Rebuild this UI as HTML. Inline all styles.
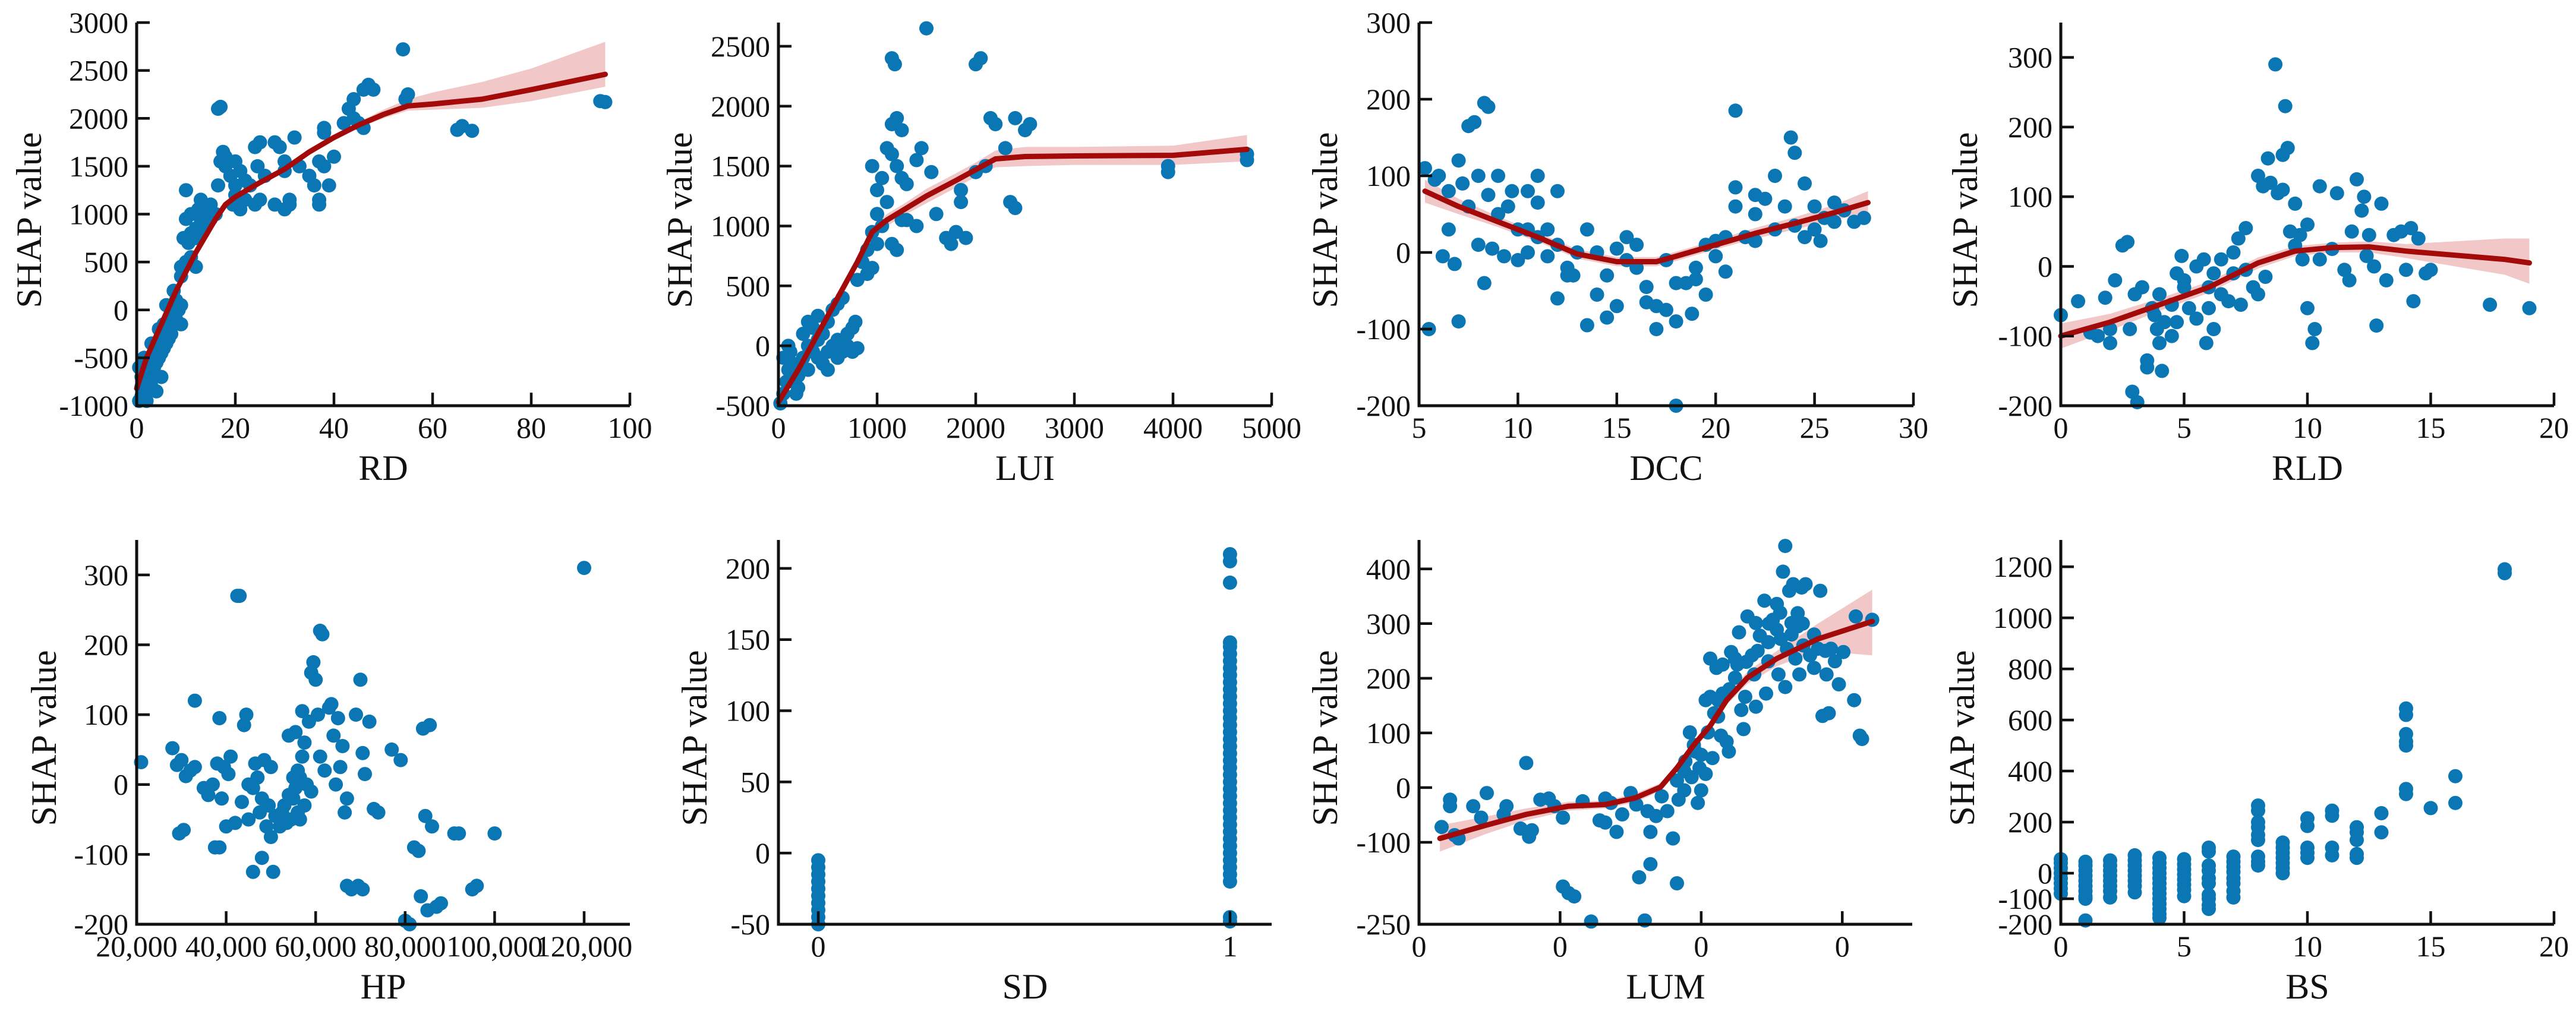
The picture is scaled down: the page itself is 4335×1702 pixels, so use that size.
<!DOCTYPE html>
<html><head><meta charset="utf-8"><style>
html,body{margin:0;padding:0;background:#fff}
svg{display:block}
svg text{font-family:"Liberation Serif","Times New Roman","DejaVu Serif",serif;fill:#111}
</style></head><body>
<svg id="chart" width="4335" height="1702" viewBox="0 0 4335 1702" xmlns="http://www.w3.org/2000/svg" font-family="Liberation Serif, Times New Roman, serif"></svg>
<script>
// ---------- DATA ----------
const rdPoints=[[0.5,-950],[1,-900],[1.5,-850],[1,-800],[2,-750],[2.5,-700],[3,-650],[2,-600],[3.5,-600],[4,-550],[3,-500],[4.5,-500],[5,-450],[4,-400],[5.5,-400],[6,-350],[5,-300],[6.5,-300],[7,-250],[6,-200],[7.5,-150],[8,-100],[7,-50],[8.5,0],[6,50],[9,50],[8,100],[9,-150],[7.5,200],[3,-800],[5,-700],[2,-950],[4,-850],[1,-700],[0.5,-600],[1.5,-500],[3,-350],[4.5,-200],[5.5,-150],[9,350],[9,450],[10,500],[11,550],[10.5,700],[9.5,750],[11,800],[12,850],[10,950],[11,1000],[12.5,1050],[13,950],[14,900],[13,800],[12,750],[14,1000],[15,950],[16,1000],[15,1100],[13,1150],[10,1250],[12,450],[16.5,1300],[17,1550],[17.5,1650],[18,1600],[18,1500],[16.5,2100],[17,2120],[19,1400],[20,1300],[20,1200],[19.5,1100],[21,1050],[22,1150],[22,1350],[21,1450],[23,1300],[20,1550],[24,1100],[25,1150],[24,1700],[25,1750],[24.5,1500],[26,1400],[28,1750],[29,1700],[28,1100],[30,1050],[31,1100],[31,1150],[32,1800],[30,1550],[30,1450],[33,1500],[35,1400],[36,1300],[37,1550],[37,1100],[37,1150],[38,1900],[38,1850],[39,1300],[40,1600],[38,1500],[42,1950],[43,2100],[44,2200],[44,2000],[45,1950],[46,1900],[46,2300],[47,2350],[48,2300],[54,2720],[54.5,2200],[55,2250],[65,1880],[66,1920],[68,1870],[94,2180],[95,2170]];
const rdFitX=[0,2,5,8,12,16,18,20,25,30,35,40,45,50,55,60,70,80,95];
const rdFitY=[-820,-500,-150,200,600,950,1100,1180,1330,1470,1650,1800,1930,2040,2130,2150,2200,2300,2460];
const rdFitLo=[-840,-520,-170,180,580,930,1080,1160,1310,1450,1630,1780,1900,2000,2080,2090,2110,2180,2330];
const rdFitHi=[-800,-480,-130,220,620,970,1120,1200,1350,1490,1670,1820,1960,2090,2200,2270,2380,2520,2800];

const luiPoints=[[20,-480],[50,-400],[80,-300],[100,-200],[50,-100],[120,-50],[150,-150],[200,-250],[180,-400],[250,-100],[300,0],[250,100],[350,150],[300,200],[400,250],[350,-50],[400,-100],[450,-150],[500,-50],[450,100],[500,200],[550,300],[600,350],[650,400],[550,0],[600,50],[650,-50],[700,100],[750,150],[780,200],[700,0],[100,0],[150,-300],[200,-350],[300,-200],[400,50],[500,-200],[600,-100],[750,-50],[800,-20],[800,550],[850,700],[900,600],[950,650],[900,800],[1000,850],[950,950],[1050,1000],[1000,1100],[1100,1200],[1000,1300],[1050,1400],[950,1500],[1100,1650],[1150,1600],[1200,1500],[1150,1850],[1200,1900],[1250,1800],[1150,2400],[1180,2350],[1250,1400],[1300,1350],[1200,800],[1150,850],[1400,1550],[1450,1650],[1500,2650],[1550,1450],[1600,1100],[1700,900],[1750,850],[1800,950],[1850,1200],[1900,900],[1850,1300],[2000,2350],[2050,2400],[2100,1500],[2150,1900],[2200,1850],[2300,1650],[2350,1200],[2400,1150],[2400,1900],[2500,1800],[2550,1850],[2000,1450],[1300,1050],[1400,1000],[1250,1050],[3950,1450],[3950,1500],[4750,1550],[4750,1600]];
const luiFitX=[0,200,400,600,800,950,1100,1300,1500,1800,2000,2200,2500,3000,4000,4750];
const luiFitY=[-470,-200,100,400,700,950,1050,1150,1250,1380,1470,1560,1580,1585,1590,1640];
const luiFitLo=[-490,-220,80,380,680,920,1000,1100,1190,1320,1410,1490,1500,1510,1510,1540];
const luiFitHi=[-450,-180,120,420,720,980,1100,1200,1310,1440,1530,1630,1660,1660,1670,1760];

const dccPoints=[[5.3,110],[5.5,-100],[5.8,95],[6,100],[6.2,-5],[6.5,80],[6.5,30],[6.8,-15],[7,120],[7,-90],[7.2,90],[7.5,165],[7.8,170],[7.5,60],[8,10],[8,100],[8.3,195],[8.5,190],[8.5,75],[8.3,-40],[8.7,5],[9,100],[9,50],[9.3,-5],[9.5,60],[9.7,80],[10,30],[10,-10],[10.5,0],[10.5,30],[11,100],[11,20],[11,65],[11.5,30],[11.5,-5],[12,80],[12,10],[12,-60],[12.5,-20],[12.5,-30],[13,0],[13.5,-95],[13.5,30],[14,-55],[14,0],[14.5,-30],[15,5],[15,-70],[15.5,20],[15.5,-10],[16,-20],[16,10],[16.5,-45],[16.5,-65],[17,-100],[17,-70],[17.5,-10],[17.5,-75],[18,-200],[18,-40],[18,-90],[18.5,-40],[19,-20],[19,-35],[19.5,-55],[19.5,10],[20,15],[20,-5],[20.5,20],[21,85],[21,60],[21,185],[21.5,20],[22,75],[22,50],[22.5,70],[23,30],[23,100],[23.5,60],[24,35],[24,130],[24.5,90],[24.5,20],[25,60],[25,30],[25.5,45],[26,40],[26.5,55],[27,40],[27.5,45],[23.8,150],[25.3,15],[26,65],[22,15],[20.5,-25],[18.8,-80],[14.5,-85],[12.8,-30],[10.5,80]];
const dccFitX=[5.3,7,9,11,13,15,17,18,20,22,24,26,27.7];
const dccFitY=[80,60,40,20,-2,-12,-12,-5,10,25,38,52,65];
const dccFitLo=[65,50,33,14,-8,-18,-18,-11,4,18,30,42,52];
const dccFitHi=[95,70,47,26,4,-6,-6,1,16,32,46,62,80];

const rldPoints=[[0,-70],[0.7,-50],[1.5,-100],[1.8,-45],[2,-110],[2,-90],[2.2,-20],[2.5,30],[2.7,35],[2.9,-180],[3.1,-195],[2.8,-90],[3,-40],[3.3,-30],[3.5,-135],[3.5,-145],[3.7,-60],[3.9,-90],[4,-40],[4.1,-150],[4,-110],[4.2,-80],[4.5,-100],[4.5,-55],[4.7,-10],[4.9,15],[5,-30],[5.2,-60],[5.5,-75],[5.5,0],[5.8,10],[5.9,-110],[6,-60],[6,-30],[6.2,-10],[6.5,10],[6.5,-40],[6.8,-50],[7,20],[7,-10],[7.2,40],[7.5,55],[7.5,-5],[7.8,-30],[8,-40],[8,130],[8.2,115],[8.4,155],[8.5,120],[8.7,290],[8.8,105],[9,160],[9,110],[9.1,230],[9.2,170],[9.3,50],[9.5,90],[9.5,30],[9.8,10],[10,60],[10,-60],[10.2,-110],[10.3,-90],[10.5,10],[10.5,115],[11,25],[11.2,105],[11.5,-5],[11.7,-20],[11.8,50],[12,125],[12.2,80],[12.3,100],[12.4,15],[12.5,45],[12.7,0],[12.8,-85],[13,90],[13.2,-20],[13.5,45],[13.8,50],[14,-5],[14.2,55],[14.3,-50],[14.5,40],[14.8,-10],[15,-5],[17.4,-55],[19,-60],[5,-20],[6.2,-90],[7.3,-55],[8.3,-15],[9.7,45],[3.8,-70],[4.7,-80],[1.2,-95]];
const rldFitX=[0,2,4,6,8,9.5,11,12.5,14,16,18,19];
const rldFitY=[-100,-80,-55,-30,5,22,27,28,22,16,10,5];
const rldFitLo=[-118,-92,-64,-38,-3,15,20,20,12,0,-12,-25];
const rldFitHi=[-82,-68,-46,-22,13,29,34,36,32,36,40,40];

const hpPoints=[[21000,32],[28000,52],[29000,28],[30000,35],[31000,12],[29500,-70],[30500,-65],[32000,20],[33000,25],[33000,120],[35000,-5],[36000,-15],[37000,0],[37500,-90],[38000,30],[38500,95],[39000,-20],[38500,-90],[39500,25],[40000,-60],[40500,15],[41000,40],[42000,-55],[42500,270],[43000,270],[43500,-25],[44000,85],[44500,100],[45000,0],[45000,-50],[46000,-125],[46500,30],[47000,10],[47500,-40],[48000,-105],[48500,35],[49000,-60],[49500,-30],[50000,-75],[50000,25],[50500,-125],[51000,-45],[52000,-60],[53000,-30],[54000,70],[54500,-50],[55000,-20],[55500,75],[56000,-40],[56500,10],[57000,105],[57000,40],[57500,-30],[58000,0],[58500,90],[59000,160],[59500,175],[60000,150],[60500,100],[61000,220],[61500,215],[61000,40],[62000,20],[63000,110],[63500,115],[64000,70],[64500,0],[65000,95],[65500,25],[66000,55],[66500,-40],[67000,-20],[67000,-145],[68000,-150],[69000,100],[69500,-145],[70000,150],[70500,-150],[70500,45],[71000,15],[72000,90],[73000,-35],[74000,-40],[77000,50],[79000,35],[80000,-195],[81000,-200],[82000,-90],[83000,-95],[83500,-160],[84000,80],[84500,-45],[85000,-180],[85500,85],[86000,-60],[87000,-175],[88000,-170],[91000,-70],[92000,-70],[95000,-150],[96000,-145],[100000,-70],[120000,310],[57500,60],[56000,20],[55000,10],[59000,-10],[52500,-40],[54000,-15],[56500,-50],[55500,-5],[53500,-55],[48000,-20],[46000,-5]];

const sdPoints=[[0,-5],[0,-10],[0,-15],[0,-20],[0,-25],[0,-30],[0,-35],[0,-40],[0,-45],[0,-50],[1,210],[1,205],[1,190],[1,148],[1,145],[1,140],[1,135],[1,130],[1,125],[1,120],[1,115],[1,110],[1,105],[1,100],[1,95],[1,90],[1,85],[1,80],[1,75],[1,70],[1,65],[1,60],[1,55],[1,50],[1,45],[1,40],[1,35],[1,30],[1,25],[1,20],[1,15],[1,10],[1,5],[1,0],[1,-5],[1,-10],[1,-15],[1,-20],[1,-45],[1,-48]];

const lumPoints=[[0.04,-72],[0.055,-22],[0.055,-34],[0.063,-87],[0.07,-93],[0.096,-34],[0.11,-55],[0.12,-10],[0.155,-34],[0.15,-49],[0.18,-75],[0.19,45],[0.195,-90],[0.2,-78],[0.215,-22],[0.23,-20],[0.24,-34],[0.255,-55],[0.255,-181],[0.265,-193],[0.275,-199],[0.29,-25],[0.305,-245],[0.32,-60],[0.33,-64],[0.33,-20],[0.34,-28],[0.35,-81],[0.36,-49],[0.375,-10],[0.385,-31],[0.39,-164],[0.4,-243],[0.405,-43],[0.41,-140],[0.41,-81],[0.42,-52],[0.43,-16],[0.44,-43],[0.45,-93],[0.457,-175],[0.457,13],[0.46,-22],[0.47,-5],[0.472,48],[0.48,101],[0.483,19],[0.49,66],[0.494,-28],[0.497,36],[0.5,-5],[0.508,25],[0.512,101],[0.516,166],[0.516,236],[0.52,54],[0.523,136],[0.527,219],[0.53,160],[0.535,95],[0.538,172],[0.545,84],[0.549,66],[0.553,248],[0.56,201],[0.564,225],[0.567,284],[0.571,142],[0.575,107],[0.578,166],[0.582,313],[0.59,242],[0.594,207],[0.597,148],[0.604,278],[0.612,342],[0.615,172],[0.619,231],[0.627,307],[0.634,336],[0.637,207],[0.641,272],[0.645,395],[0.649,184],[0.649,442],[0.652,254],[0.656,360],[0.66,301],[0.663,372],[0.667,236],[0.671,295],[0.674,207],[0.678,366],[0.681,260],[0.685,372],[0.693,242],[0.7,219],[0.707,254],[0.711,360],[0.715,131],[0.722,207],[0.726,136],[0.73,254],[0.737,231],[0.744,189],[0.752,248],[0.771,160],[0.774,313],[0.781,95],[0.785,89],[0.803,307],[0.597,301],[0.634,289],[0.619,266],[0.671,319],[0.56,236],[0.538,225],[0.508,160],[0.487,78],[0.62,300],[0.64,320],[0.66,280],[0.6,250],[0.58,230],[0.68,300],[0.7,280],[0.72,250],[0.55,180],[0.53,130],[0.5,60],[0.47,30]];
const lumFitX=[0.037,0.118,0.19,0.265,0.33,0.383,0.428,0.457,0.487,0.516,0.545,0.582,0.634,0.707,0.803];
const lumFitY=[-93,-69,-49,-34,-31,-19,1,36,78,113,160,201,236,272,304];
const lumFitLo=[-117,-85,-60,-42,-38,-27,-6,29,71,105,151,190,222,250,242];
const lumFitHi=[-69,-53,-38,-26,-24,-11,8,43,85,121,169,212,250,300,362];

const bsX=[0,1,2,3,4,5,6,7,8,9,10,11,12,13,14,15,16,18];
const bsY=[[55,40,20,0,-20,-40,-60,-80],[45,30,10,-10,-30,-50,-70,-90,-100,-185],[50,30,10,-10,-30,-50,-70,-95],[70,50,30,10,-10,-30,-50,-75],[60,40,20,0,-20,-40,-60,-80,-100,-120,-140,-160,-175],[55,35,15,-5,-25,-45,-65,-90],[100,85,30,10,-20,-40,-85,-100,-125,-140],[65,45,25,5,-20,-40,-70,-95],[265,245,200,180,150,130,65,45,30],[120,100,80,60,40,20,0],[215,185,100,80,60],[245,225,100,70],[180,160,130,75,60],[235,160],[645,620,545,515,500,330,310],[255],[380,275],[1190,1175]];

const rdXTicks=[0,20,40,60,80,100], rdYTicks=[-1000,-500,0,500,1000,1500,2000,2500,3000];
const luiXTicks=[0,1000,2000,3000,4000,5000], luiYTicks=[-500,0,500,1000,1500,2000,2500];
const dccXTicks=[5,10,15,20,25,30], dccYTicks=[-200,-100,0,100,200,300];
const rldXTicks=[0,5,10,15,20], rldYTicks=[-200,-100,0,100,200,300];
const hpXTicks=[20000,40000,60000,80000,100000,120000], hpXLabels=["20,000","40,000","60,000","80,000","100,000","120,000"];
const hpYTicks=[-200,-100,0,100,200,300];
const sdXTicks=[0,1], sdYTicks=[-50,0,50,100,150,200];
const lumXTicks=[0,0.25,0.5,0.75], lumXLabels=["0","0","0","0"], lumYTicks=[-250,-100,0,100,200,300,400];
const bsXTicks=[0,5,10,15,20], bsYTicks=[-200,-100,0,200,400,600,800,1000,1200];

// ---------- DRAW ----------
const NS="http://www.w3.org/2000/svg";
const svg=document.getElementById('chart');
const FONT="Liberation Serif, Times New Roman, DejaVu Serif, serif";
function mk(tag,attrs,parent){const e=document.createElementNS(NS,tag);for(const k in attrs)e.setAttribute(k,attrs[k]);(parent||svg).appendChild(e);return e;}
const DOT="#0a76b4", LINE="#a30a0a", BAND="#e9a9a9";

function panel(cfg){
  const g=mk('g',{});
  
  
  const sx=v=>cfg.x0+(v-cfg.xd[0])/(cfg.xd[1]-cfg.xd[0])*(cfg.x1-cfg.x0);
  const sy=v=>cfg.y0-(v-cfg.yd[0])/(cfg.yd[1]-cfg.yd[0])*(cfg.y0-cfg.y1);
  if(cfg.fitX){
    let d='';
    cfg.fitX.forEach((x,i)=>{d+=(i?'L':'M')+sx(x).toFixed(1)+','+sy(cfg.fitHi[i]).toFixed(1);});
    for(let i=cfg.fitX.length-1;i>=0;i--)d+='L'+sx(cfg.fitX[i]).toFixed(1)+','+sy(cfg.fitLo[i]).toFixed(1);
    const band=mk('path',{d:d+'Z',fill:BAND,'fill-opacity':'0.65'},g);
    
    
  }
  const pg=mk('g',{fill:DOT},g);
  
  
  cfg.pts.forEach(p=>{
    const c=mk('circle',{cx:sx(p[0]).toFixed(1),cy:sy(p[1]).toFixed(1),r:12},pg);
    
    
  });
  if(cfg.fitX){
    const d=cfg.fitX.map((x,i)=>(i?'L':'M')+sx(x).toFixed(1)+','+sy(cfg.fitY[i]).toFixed(1)).join('');
    const ln=mk('path',{d:d,fill:'none',stroke:LINE,'stroke-width':9,'stroke-linejoin':'round','stroke-linecap':'round'},g);
    
    
  }
  const ax=mk('path',{d:`M${cfg.x0},${cfg.y1}L${cfg.x0},${cfg.y0}L${cfg.x1},${cfg.y0}`,fill:'none',stroke:'#111','stroke-width':5},g);
  
  
  cfg.xt.forEach((t,i)=>{
    const x=sx(t);
    mk('line',{x1:x,x2:x,y1:cfg.y0,y2:cfg.y0-22,stroke:'#111','stroke-width':4.5},g);
    const tx=mk('text',{x:x,y:cfg.y0+54,'font-size':50,'text-anchor':'middle','font-family':FONT},g);
    tx.textContent=cfg.xl?cfg.xl[i]:String(t);
    
    
  });
  cfg.yt.forEach(t=>{
    const y=sy(t);
    mk('line',{x1:cfg.x0,x2:cfg.x0+22,y1:y,y2:y,stroke:'#111','stroke-width':4.5},g);
    const tx=mk('text',{x:cfg.x0-14,y:y+17,'font-size':50,'text-anchor':'end','font-family':FONT},g);
    tx.textContent=String(t);
    
    
  });
  const xt=mk('text',{x:(cfg.x0+cfg.x1)/2,y:cfg.y0+125,'font-size':60,'text-anchor':'middle','font-family':FONT},g);
  xt.textContent=cfg.title;
  
  
  const yc=(cfg.y0+cfg.y1)/2+10;
  const yt=mk('text',{x:cfg.yx,y:yc,'font-size':60,'text-anchor':'middle','font-family':FONT,transform:`rotate(-90 ${cfg.yx} ${yc})`,dy:20},g);
  yt.textContent='SHAP value';
  
  
}
const R1={y0:683,y1:38}, R2={y0:1556,y1:909};
panel(Object.assign({name:'rd',title:'RD',x0:230,x1:1060,xd:[0,100],yd:[-1000,3000],pts:rdPoints,xt:rdXTicks,yt:rdYTicks,yx:49,fitX:rdFitX,fitY:rdFitY,fitLo:rdFitLo,fitHi:rdFitHi},R1));
panel(Object.assign({name:'lui',title:'LUI',x0:1310,x1:2140,xd:[0,5000],yd:[-500,2698],pts:luiPoints,xt:luiXTicks,yt:luiYTicks,yx:1144,fitX:luiFitX,fitY:luiFitY,fitLo:luiFitLo,fitHi:luiFitHi},R1));
panel(Object.assign({name:'dcc',title:'DCC',x0:2388,x1:3220,xd:[5,30],yd:[-200,300],pts:dccPoints,xt:dccXTicks,yt:dccYTicks,yx:2230,fitX:dccFitX,fitY:dccFitY,fitLo:dccFitLo,fitHi:dccFitHi},R1));
panel(Object.assign({name:'rld',title:'RLD',x0:3468,x1:4298,xd:[0,20],yd:[-200,350],pts:rldPoints,xt:rldXTicks,yt:rldYTicks,yx:3307,fitX:rldFitX,fitY:rldFitY,fitLo:rldFitLo,fitHi:rldFitHi},R1));
panel(Object.assign({name:'hp',title:'HP',x0:230,x1:1060,xd:[20000,130226],yd:[-200,350],pts:hpPoints,xt:hpXTicks,xl:hpXLabels,yt:hpYTicks,yx:74},R2));
panel(Object.assign({name:'sd',title:'SD',x0:1310,x1:2140,xd:[-0.0967,1.1011],yd:[-50,220],pts:sdPoints,xt:sdXTicks,yt:sdYTicks,yx:1169},R2));
panel(Object.assign({name:'lum',title:'LUM',x0:2388,x1:3218,xd:[0,0.874],yd:[-250,453],pts:lumPoints,xt:lumXTicks,xl:lumXLabels,yt:lumYTicks,yx:2230,fitX:lumFitX,fitY:lumFitY,fitLo:lumFitLo,fitHi:lumFitHi},R2));
const bsPts=[];bsX.forEach((x,i)=>bsY[i].forEach(y=>bsPts.push([x,y])));
panel(Object.assign({name:'bs',title:'BS',x0:3468,x1:4298,xd:[0,20],yd:[-200,1305],pts:bsPts,xt:bsXTicks,yt:bsYTicks,yx:3302},R2));
</script>
</body></html>
